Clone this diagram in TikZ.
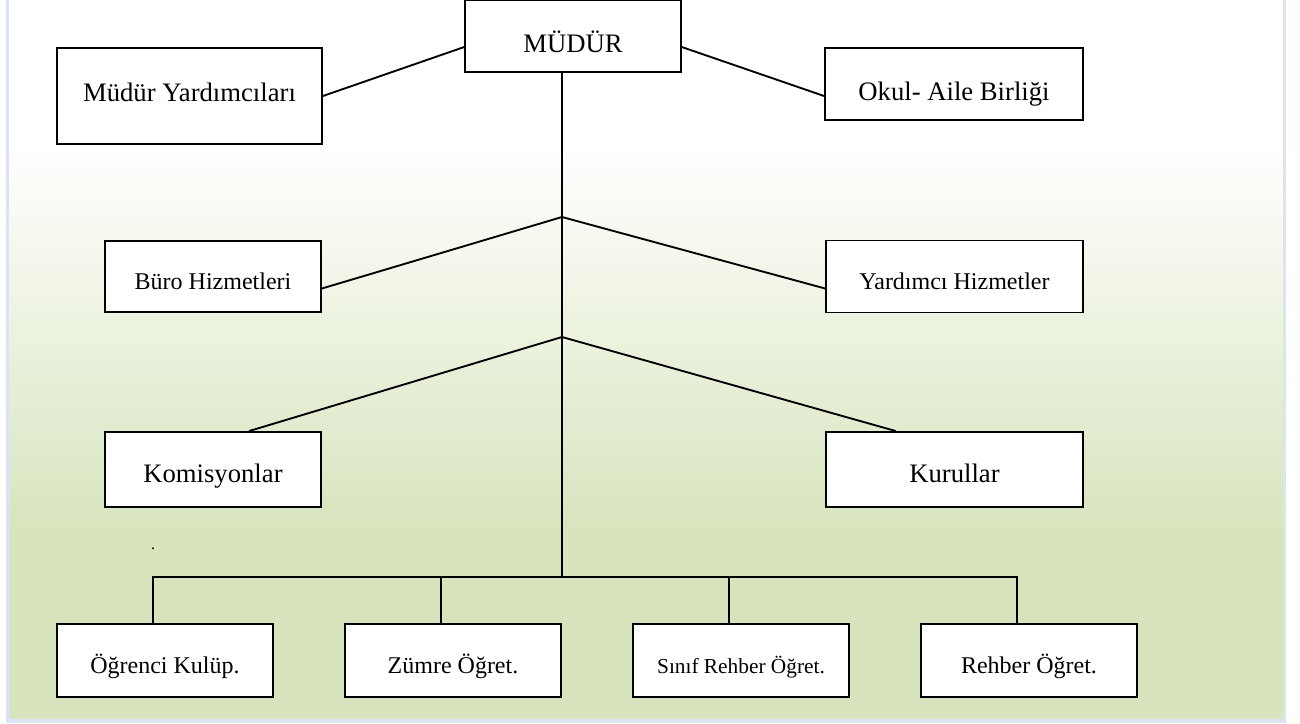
\documentclass[tikz,border=0pt]{standalone}
\usepackage{fontspec}
\setmainfont{Liberation Serif}
\usepackage{xcolor}
\usetikzlibrary{positioning}

\definecolor{bggreen}{RGB}{215,228,189}
\definecolor{edgeblue}{RGB}{219,229,241}
\pgfdeclareverticalshading{pageshade}{100bp}{color(0bp)=(bggreen); color(38bp)=(bggreen); color(65bp)=(white); color(100bp)=(white)}

\tikzset{
  unitbox/.style={draw, line width=1.4pt, fill=white, inner sep=0pt,
    minimum width=162pt, minimum height=54pt,
    text height=22pt, text depth=2.5pt, font=\fontsize{18}{20}\selectfont},
  bigtext/.style={font=\fontsize{20}{24}\selectfont},
  link/.style={line width=1.4pt}
}

\begin{document}
\begin{tikzpicture}[x=0.75pt, y=-0.75pt]
  \useasboundingbox (0,0) rectangle (1300,724);

  % page background
  \shade[shading=pageshade] (7.5,0) rectangle (1284,721);
  \draw[edgeblue, line width=2.5pt] (7.5,0) -- (7.5,721) -- (1284.5,721) -- (1284.5,0);

  % top level
  \node[unitbox, bigtext, text height=28pt] (mudur) at (573,36) {MÜDÜR};
  \node[unitbox, bigtext, minimum width=198.75pt, minimum height=72pt, text depth=14pt] (myard) at (189.5,96) {Müdür Yardımcıları};
  \node[unitbox, bigtext, minimum width=193.5pt, text height=28pt] (okul) at (954,84) {Okul- Aile Birliği};

  % junctions on the trunk
  \coordinate (j1) at (562,217);
  \coordinate (j2) at (562,337);
  \coordinate (j3) at (562,577);

  \node[unitbox, minimum height=53.25pt] (buro) at (213,276.5) {Büro Hizmetleri};
  \node[unitbox, minimum width=192.75pt] (yardim) at (954.5,276.5) {Yardımcı Hizmetler};
  \node[unitbox, bigtext, minimum height=56.25pt] (komis) at (213,469.5) {Komisyonlar};
  \node[unitbox, bigtext, minimum width=192.75pt, minimum height=56.25pt] (kurul) at (954.5,469.5) {Kurullar};

  % bottom row
  \node[unitbox, minimum height=54.75pt] (kulup) at (165,660.5) {Öğrenci Kulüp.};
  \node[unitbox, minimum height=54.75pt, right=52.6pt of kulup] (zumre) {Zümre Öğret.};
  \node[unitbox, minimum height=54.75pt, right=52.6pt of zumre, font=\fontsize{16}{18}\selectfont] (sinif) {Sınıf Rehber Öğret.};
  \node[unitbox, minimum height=54.75pt, right=52.6pt of sinif] (rehber) {Rehber Öğret.};

  % stray dots
  \node[font=\fontsize{12}{12}\selectfont, inner sep=0pt] (dotA) at (153,549) {.};
  \node[font=\fontsize{8}{8}\selectfont, inner sep=0pt] (dotB) at (562,478) {.};

  % connectors
  \draw[link] (mudur.south -| j1) -- (j3);
  \draw[link] (mudur.west |- myard.north) -- (myard.east);
  \draw[link] (mudur.east |- okul.north) -- (okul.west |- myard.east);
  \draw[link] (j1) -- ([yshift=-9pt]buro.east);
  \draw[link] (j1) -- ([yshift=-9pt]yardim.west);
  \draw[link] (j2) -- ([xshift=27pt]komis.north);
  \draw[link] (j2) -- ([xshift=-44pt]kurul.north);

  \coordinate (d1) at (153,577);
  \coordinate (d2) at (441,577);
  \coordinate (d3) at (729,577);
  \coordinate (d4) at (1017,577);
  \draw[link] (d1 |- kulup.north) -- (d1) -- (d4) -- (d4 |- rehber.north);
  \draw[link] (d2) -- (d2 |- zumre.north);
  \draw[link] (d3) -- (d3 |- sinif.north);
\end{tikzpicture}
\end{document}
